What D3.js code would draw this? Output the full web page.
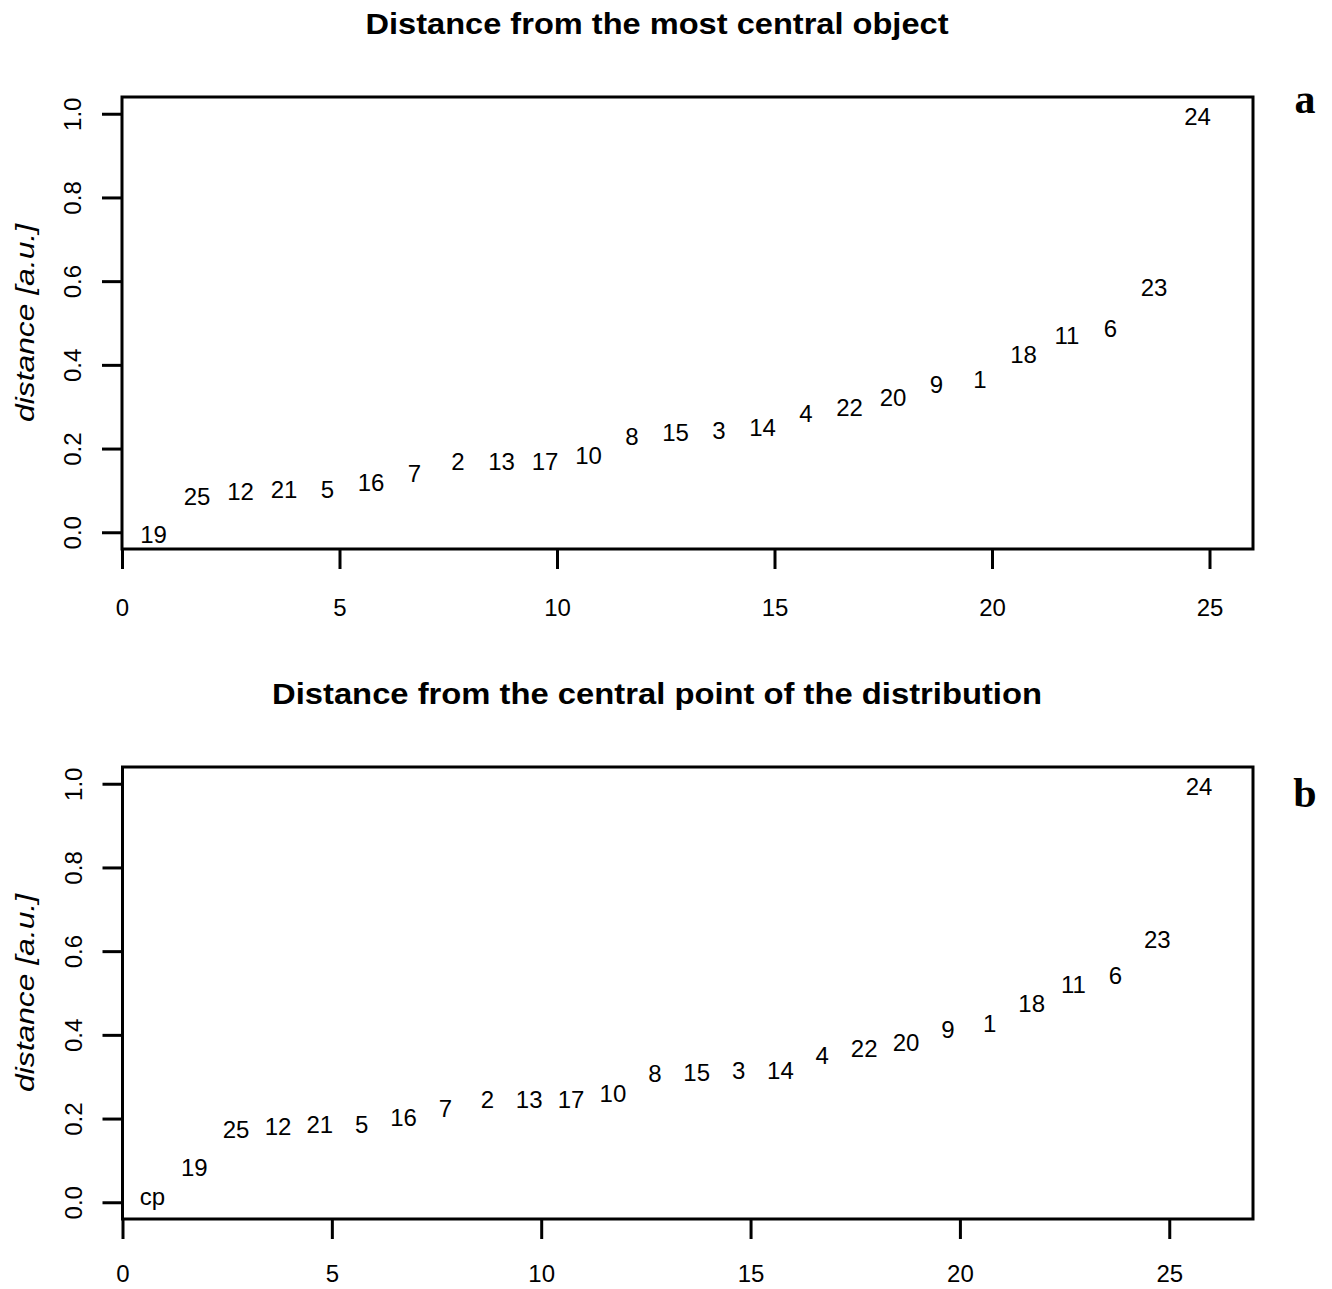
<!DOCTYPE html>
<html>
<head>
<meta charset="utf-8">
<script src="https://cdn.jsdelivr.net/npm/d3@7"></script>
<style>
  body { margin: 0; background: #fff; }
  svg { display: block; font-family: "Liberation Sans", Arial, Helvetica, sans-serif; }
</style>
</head>
<body>
<svg id="chart" width="1332" height="1289"></svg>
<script>
// panel a: objects sorted by distance from the most central object
const labelsA = ["19", "25", "12", "21", "5", "16", "7", "2", "13", "17", "10", "8", "15",
  "3", "14", "4", "22", "20", "9", "1", "18", "11", "6", "23", "24"];
const distA = [0.0, 0.091, 0.103, 0.108, 0.108, 0.124, 0.147, 0.174, 0.174, 0.174, 0.190, 0.235, 0.244,
  0.250, 0.256, 0.289, 0.305, 0.328, 0.360, 0.372, 0.430, 0.477, 0.494, 0.592, 1.0];

// panel b: same objects plus the central point (cp) of the distribution
const labelsB = ["cp", "19", "25", "12", "21", "5", "16", "7", "2", "13", "17", "10", "8", "15",
  "3", "14", "4", "22", "20", "9", "1", "18", "11", "6", "23", "24"];
const distB = [0.0, 0.090, 0.181, 0.188, 0.192, 0.192, 0.209, 0.231, 0.251, 0.251, 0.251, 0.266, 0.314, 0.317,
  0.322, 0.322, 0.357, 0.373, 0.388, 0.420, 0.432, 0.480, 0.526, 0.548, 0.633, 1.0];

const xTicks = [0, 5, 10, 15, 20, 25];
const yTicks = [0, 0.2, 0.4, 0.6, 0.8, 1.0];

const titleA = "Distance from the most central object";
const titleB = "Distance from the central point of the distribution";
const yLabel = "distance [a.u.]";

const svg = d3.select("#chart");
svg.append("rect").attr("width", 1332).attr("height", 1289).attr("fill", "#fff");

function drawPanel(p) {
  const x = d3.scaleLinear().domain([0, p.xMax]).range([p.left, 1253]);
  const y = d3.scaleLinear().domain([-0.04, 1.04]).range([p.bottom, p.top]);
  const g = svg.append("g");

  const pts = p.labels.map((l, i) => ({ label: l, value: p.values[i], idx: i + 1 }));

  // the labels themselves are the plotting symbols
  g.selectAll("text.pt")
    .data(pts)
    .join("text")
    .attr("class", "pt")
    .attr("x", d => x(d.idx))
    .attr("dx", -12)
    .attr("y", d => y(d.value))
    .attr("dy", d => /^\d+$/.test(d.label) ? "0.46em" : "0.12em")
    .attr("text-anchor", "middle")
    .style("font-size", "24px")
    .text(d => d.label);

  const xAxis = g.append("g")
    .attr("transform", `translate(0,${p.bottom})`)
    .call(d3.axisBottom(x).tickValues(xTicks).tickSize(20).tickPadding(p.xPad).tickSizeOuter(0));
  xAxis.attr("font-size", 24).attr("font-family", null);
  xAxis.select(".domain").remove();
  xAxis.selectAll(".tick line").attr("stroke-width", 3);

  const yAxis = g.append("g")
    .attr("transform", `translate(${p.left},0)`)
    .call(d3.axisLeft(y).tickValues(yTicks).tickSize(20).tickFormat(d3.format(".1f")));
  yAxis.attr("font-size", 24).attr("font-family", null);
  yAxis.select(".domain").remove();
  yAxis.selectAll(".tick line").attr("stroke-width", 3);
  yAxis.selectAll(".tick text")
    .attr("x", null)
    .attr("dy", null)
    .attr("text-anchor", "middle")
    .attr("transform", "translate(-41,0) rotate(-90)");

  // plot frame
  g.append("rect")
    .attr("x", p.left)
    .attr("y", p.top)
    .attr("width", 1253 - p.left)
    .attr("height", p.bottom - p.top)
    .attr("fill", "none")
    .attr("stroke", "#000")
    .attr("stroke-width", 3);

  g.append("text")
    .attr("transform", `translate(34,${(p.top + p.bottom) / 2}) rotate(-90)`)
    .attr("text-anchor", "middle")
    .style("font-style", "italic")
    .style("font-size", "26px")
    .attr("textLength", 198)
    .attr("lengthAdjust", "spacingAndGlyphs")
    .text(yLabel);

  g.append("text")
    .attr("x", 657)
    .attr("y", p.top - 63)
    .attr("text-anchor", "middle")
    .style("font-weight", "bold")
    .style("font-size", "29px")
    .attr("textLength", p.titleLen)
    .attr("lengthAdjust", "spacingAndGlyphs")
    .text(p.title);

  g.append("text")
    .attr("x", 1305)
    .attr("y", p.tagY)
    .attr("text-anchor", "middle")
    .style("font-family", "'Liberation Serif', 'Times New Roman', serif")
    .style("font-weight", "bold")
    .style("font-size", "42px")
    .text(p.tag);
}

drawPanel({ labels: labelsA, values: distA, xMax: 26, left: 122, top: 97, bottom: 549, xPad: 30,
  title: titleA, titleLen: 583, tag: "a", tagY: 113 });
drawPanel({ labels: labelsB, values: distB, xMax: 27, left: 122.5, top: 767, bottom: 1219, xPad: 26,
  title: titleB, titleLen: 770, tag: "b", tagY: 807 });
</script>
</body>
</html>
